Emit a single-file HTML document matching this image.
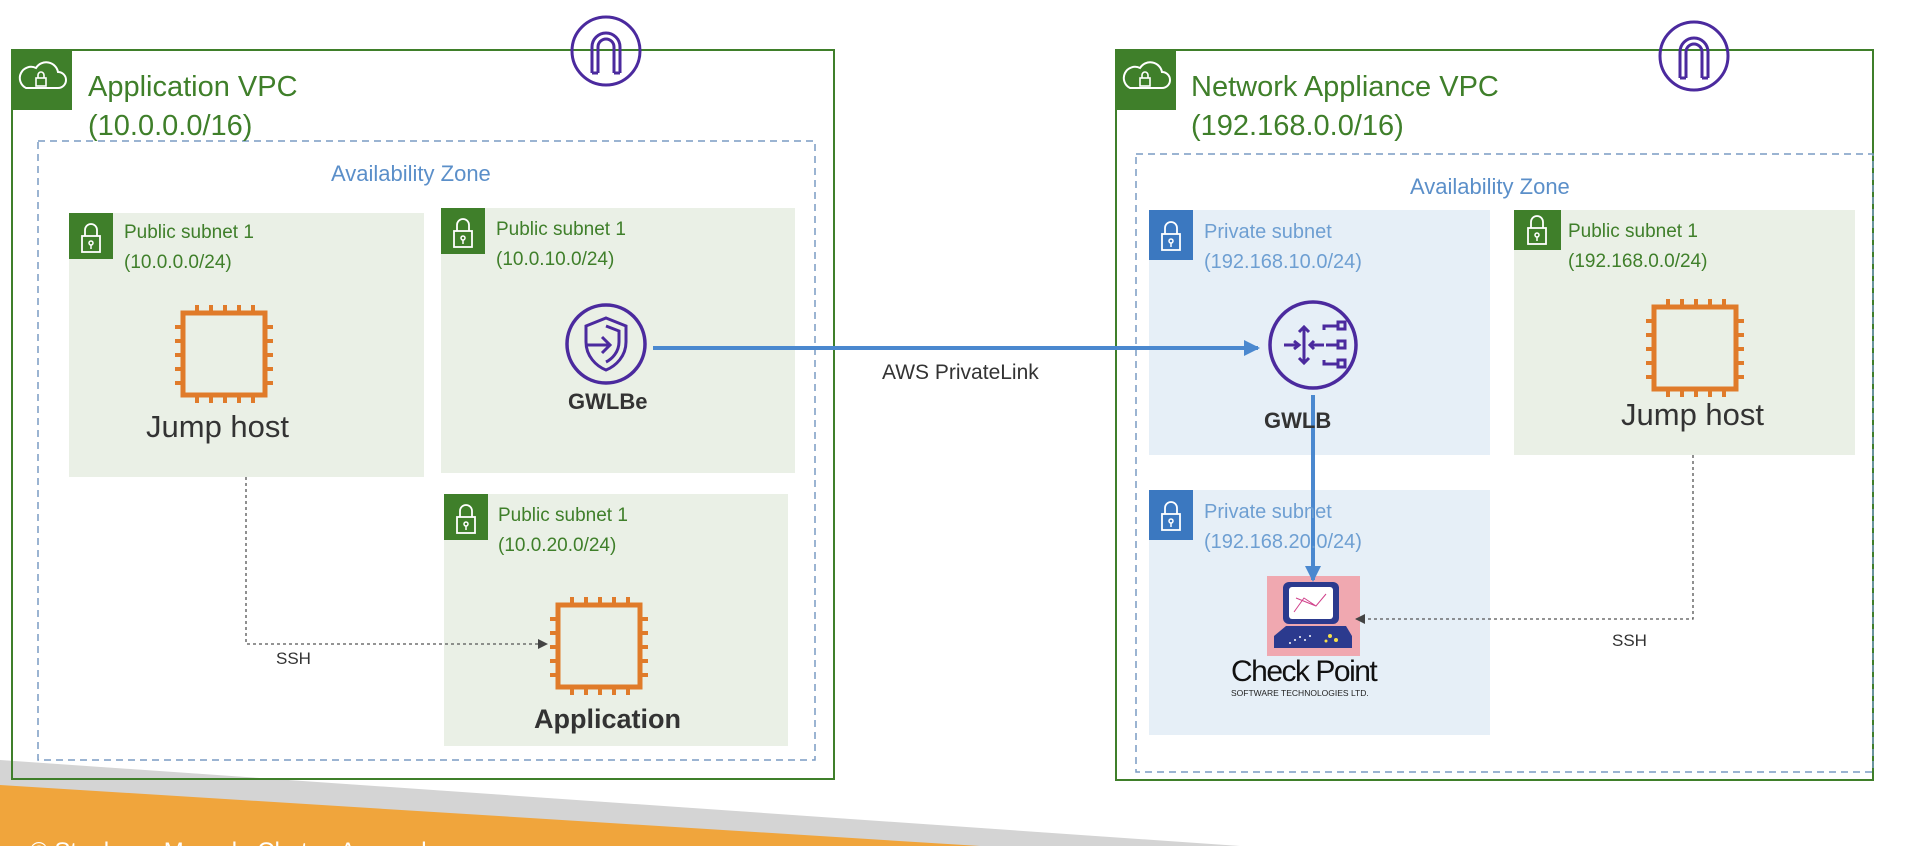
<!DOCTYPE html>
<html><head><meta charset="utf-8"><style>
html,body{margin:0;padding:0;width:1914px;height:846px;overflow:hidden;background:#fff;font-family:"Liberation Sans",sans-serif}
.a{position:absolute;white-space:nowrap}
</style></head><body>
<svg width="1914" height="846" style="position:absolute;left:0;top:0" xmlns="http://www.w3.org/2000/svg">
<defs>
<g id="chip"><rect x="8" y="8" width="82" height="82" fill="none" stroke="#e07b2a" stroke-width="5"/>
<g stroke="#e07b2a" stroke-width="4">
<path d="M22 0v8M36 0v8M50 0v8M64 0v8M78 0v8M22 90v8M36 90v8M50 90v8M64 90v8M78 90v8M0 22h8M0 36h8M0 50h8M0 64h8M0 78h8M90 22h8M90 36h8M90 50h8M90 64h8M90 78h8"/></g></g>
<g id="lock"><path d="M-6 -2v-6a6 6 0 0 1 12 0v6" fill="none" stroke="#fff" stroke-width="1.8"/><rect x="-9" y="-2" width="18" height="16" fill="none" stroke="#fff" stroke-width="1.8"/><circle cx="0" cy="5" r="2" fill="none" stroke="#fff" stroke-width="1.5"/><path d="M0 7v4" stroke="#fff" stroke-width="1.5"/></g>
<g id="gw"><circle r="34" fill="none" stroke="#4b2a9e" stroke-width="3"/><path d="M-14 22v-26a14 14 0 0 1 28 0v26M-8 22v-26a8 8 0 0 1 16 0v26" fill="none" stroke="#4b2a9e" stroke-width="3"/><path d="M-14 22h6M8 22h6" stroke="#4b2a9e" stroke-width="3"/></g>
<marker id="ab" markerWidth="16" markerHeight="16" refX="14" refY="8" orient="auto" markerUnits="userSpaceOnUse"><path d="M0 0L16 8L0 16z" fill="#4a88cf"/></marker>
<marker id="ag" markerWidth="10" markerHeight="10" refX="9" refY="5" orient="auto" markerUnits="userSpaceOnUse"><path d="M0 0L10 5L0 10z" fill="#444"/></marker>
</defs>
<polygon points="0,760 1240,846 0,846" fill="#d4d4d4"/>
<polygon points="0,785 980,846 0,846" fill="#f0a53c"/>
<rect x="12" y="50" width="822" height="729" fill="none" stroke="#3f7f2a" stroke-width="2"/>
<rect x="12" y="50" width="60" height="60" fill="#3f7f2a"/>
<path d="M26 88h32a8 8 0 0 0 0-16a12 12 0 0 0-22-4a9 9 0 0 0-10 20z" fill="none" stroke="#fff" stroke-width="2"/>
<rect x="36" y="78" width="10" height="8" fill="none" stroke="#fff" stroke-width="1.6"/><path d="M38 78v-3a3 3 0 0 1 6 0v3" fill="none" stroke="#fff" stroke-width="1.6"/>
<rect x="38" y="141" width="777" height="619" fill="none" stroke="#7a9cc4" stroke-width="1.5" stroke-dasharray="7,5"/>
<rect x="69" y="213" width="355" height="264" fill="#eaf0e6"/>
<rect x="69" y="213" width="44" height="46" fill="#3f7f2a"/><use href="#lock" x="91" y="238"/>
<rect x="441" y="208" width="354" height="265" fill="#eaf0e6"/>
<rect x="441" y="208" width="44" height="46" fill="#3f7f2a"/><use href="#lock" x="463" y="233"/>
<rect x="444" y="494" width="344" height="252" fill="#eaf0e6"/>
<rect x="444" y="494" width="44" height="46" fill="#3f7f2a"/><use href="#lock" x="466" y="519"/>
<use href="#chip" x="175" y="305"/>
<use href="#chip" x="550" y="597"/>
<use href="#gw" x="606" y="51"/>
<circle cx="606" cy="344" r="39" fill="none" stroke="#4b2a9e" stroke-width="3.5"/>
<path d="M606 318l20 8v16c0 14-10 24-20 28c-10-4-20-14-20-28v-16z" fill="none" stroke="#4b2a9e" stroke-width="3"/>
<path d="M606 326l13 5v11c0 10-7 17-13 20" fill="none" stroke="#4b2a9e" stroke-width="3"/>
<path d="M586 345h24M602 337l8 8l-8 8" fill="none" stroke="#4b2a9e" stroke-width="3"/>
<path d="M246 477V644H547" fill="none" stroke="#555" stroke-width="1.3" stroke-dasharray="3,3" marker-end="url(#ag)"/>
<rect x="1116" y="50" width="757" height="730" fill="none" stroke="#3f7f2a" stroke-width="2"/>
<rect x="1116" y="50" width="60" height="60" fill="#3f7f2a"/>
<path d="M1130 88h32a8 8 0 0 0 0-16a12 12 0 0 0-22-4a9 9 0 0 0-10 20z" fill="none" stroke="#fff" stroke-width="2"/>
<rect x="1140" y="78" width="10" height="8" fill="none" stroke="#fff" stroke-width="1.6"/><path d="M1142 78v-3a3 3 0 0 1 6 0v3" fill="none" stroke="#fff" stroke-width="1.6"/>
<rect x="1136" y="154" width="737" height="618" fill="none" stroke="#7a9cc4" stroke-width="1.5" stroke-dasharray="7,5"/>
<rect x="1149" y="210" width="341" height="245" fill="#e6eff7"/>
<rect x="1149" y="210" width="44" height="50" fill="#3b78c0"/><use href="#lock" x="1171" y="236"/>
<rect x="1149" y="490" width="341" height="245" fill="#e6eff7"/>
<rect x="1149" y="490" width="44" height="50" fill="#3b78c0"/><use href="#lock" x="1171" y="516"/>
<rect x="1514" y="210" width="341" height="245" fill="#eaf0e6"/>
<rect x="1514" y="210" width="47" height="40" fill="#3f7f2a"/><use href="#lock" x="1537" y="230"/>
<use href="#chip" x="1646" y="299"/>
<use href="#gw" x="1694" y="56"/>
<circle cx="1313" cy="345" r="43" fill="none" stroke="#4b2a9e" stroke-width="3.5"/>
<g fill="none" stroke="#4b2a9e" stroke-width="3">
<path d="M1284 345h14M1294 341l5 4l-5 4"/>
<path d="M1304 328v34M1299 332l5-5l5 5M1299 358l5 5l5-5"/>
<path d="M1310 345h14M1314 341l-4 4l4 4"/>
<path d="M1324 330v-4h14M1324 360v4h14M1326 345h12"/>
<rect x="1338" y="322" width="7" height="7"/><rect x="1338" y="341" width="7" height="7"/><rect x="1338" y="360" width="7" height="7"/>
</g>
<rect x="1267" y="576" width="93" height="80" fill="#f0a8b0"/>
<rect x="1283" y="582" width="56" height="42" rx="6" fill="#2b3a8e"/>
<rect x="1289" y="587" width="44" height="32" rx="3" fill="#fff"/>
<path d="M1294 612l10-14l12 8l10-12M1296 598l20 8" stroke="#d0408a" stroke-width="1" fill="none"/>
<path d="M1274 636l12-10h60l6 10v12h-78z" fill="#2b3a8e"/>
<g fill="#f5e04a"><circle cx="1330" cy="636" r="2"/><circle cx="1336" cy="640" r="2"/><circle cx="1326" cy="641" r="1.5"/></g>
<g fill="#fff"><circle cx="1295" cy="640" r="1"/><circle cx="1300" cy="637" r="1"/><circle cx="1305" cy="640" r="1"/><circle cx="1310" cy="636" r="1"/><circle cx="1290" cy="643" r="1"/></g>
<path d="M653 348H1258" stroke="#4a88cf" stroke-width="4" fill="none" marker-end="url(#ab)"/>
<path d="M1313 395V580" stroke="#4a88cf" stroke-width="4" fill="none" marker-end="url(#ab)"/>
<path d="M1693 455V619H1356" fill="none" stroke="#555" stroke-width="1.3" stroke-dasharray="3,3" marker-end="url(#ag)"/>
</svg>
<div class="a" style="left:88px;top:68px;font-size:29px;line-height:39px;color:#3f7f2a">Application VPC<br>(10.0.0.0/16)</div>
<div class="a" style="left:331px;top:161px;font-size:22px;color:#5b8fc9">Availability Zone</div>
<div class="a" style="left:124px;top:218px;font-size:19px;line-height:30px;color:#3f7f2a">Public subnet 1<br>(10.0.0.0/24)</div>
<div class="a" style="left:496px;top:215px;font-size:19px;line-height:30px;color:#3f7f2a">Public subnet 1<br>(10.0.10.0/24)</div>
<div class="a" style="left:498px;top:501px;font-size:19px;line-height:30px;color:#3f7f2a">Public subnet 1<br>(10.0.20.0/24)</div>
<div class="a" style="left:146px;top:409px;font-size:31px;color:#333">Jump host</div>
<div class="a" style="left:568px;top:389px;font-size:22px;font-weight:bold;color:#333">GWLBe</div>
<div class="a" style="left:534px;top:704px;font-size:27px;font-weight:bold;color:#333">Application</div>
<div class="a" style="left:276px;top:649px;font-size:17px;color:#333">SSH</div>
<div class="a" style="left:882px;top:361px;font-size:21px;color:#333">AWS PrivateLink</div>
<div class="a" style="left:1191px;top:68px;font-size:29px;line-height:39px;color:#3f7f2a">Network Appliance VPC<br>(192.168.0.0/16)</div>
<div class="a" style="left:1410px;top:174px;font-size:22px;color:#5b8fc9">Availability Zone</div>
<div class="a" style="left:1204px;top:217px;font-size:20px;line-height:30px;color:#6e9fd2">Private subnet<br>(192.168.10.0/24)</div>
<div class="a" style="left:1204px;top:497px;font-size:20px;line-height:30px;color:#6e9fd2">Private subnet<br>(192.168.20.0/24)</div>
<div class="a" style="left:1568px;top:217px;font-size:19px;line-height:30px;color:#3f7f2a">Public subnet 1<br>(192.168.0.0/24)</div>
<div class="a" style="left:1621px;top:397px;font-size:31px;color:#333">Jump host</div>
<div class="a" style="left:1264px;top:408px;font-size:22px;font-weight:bold;color:#333">GWLB</div>
<div class="a" style="left:1231px;top:655px;font-size:30px;letter-spacing:-1.5px;color:#111">Check Point</div>
<div class="a" style="left:1231px;top:688px;font-size:8.5px;color:#222">SOFTWARE TECHNOLOGIES LTD.</div>
<div class="a" style="left:1612px;top:631px;font-size:17px;color:#333">SSH</div>
<div class="a" style="left:30px;top:838px;font-size:24px;color:#fff">© Stephane Maarek, Chetan Agrawal</div>
</body></html>
